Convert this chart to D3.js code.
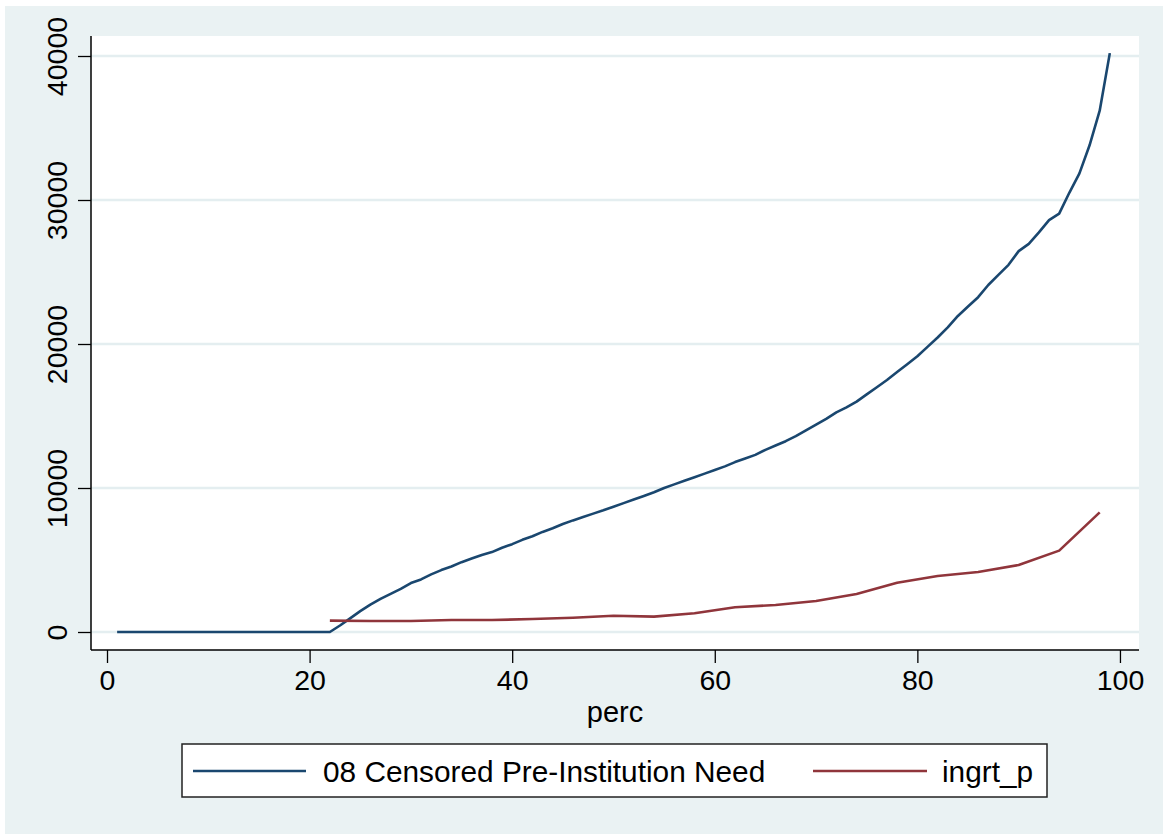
<!DOCTYPE html>
<html>
<head>
<meta charset="utf-8">
<script src="https://cdn.jsdelivr.net/npm/d3@7"></script>
<style>
  body { margin: 0; background: #ffffff; }
  text { font-family: "Liberation Sans", Arial, sans-serif; fill: #000; }
</style>
</head>
<body>
<div id="chart"></div>
<script>
// Chart size
const width = 1163;
const height = 835;

// Blue series: percentile 1..99
const needPerc = d3.range(1, 100);
const needVals = [
  0, 0, 0, 0, 0, 0, 0, 0, 0, 0,
  0, 0, 0, 0, 0, 0, 0, 0, 0, 0,
  0, 0, 450, 950, 1450, 1900, 2300, 2650, 3000, 3400,
  3650, 4000, 4300, 4550, 4850, 5100, 5350, 5550, 5850, 6100,
  6400, 6650, 6950, 7200, 7500, 7750, 7980, 8220, 8450, 8700,
  8950, 9200, 9450, 9700, 10000, 10250, 10500, 10750, 11000, 11250,
  11500, 11800, 12050, 12300, 12650, 12950, 13250, 13600, 14000, 14400,
  14800, 15250, 15600, 16000, 16500, 17000, 17500, 18050, 18600, 19150,
  19800, 20450, 21150, 21950, 22600, 23250, 24100, 24800, 25500, 26450,
  26950, 27750, 28600, 29050, 30500, 31850, 33800, 36200, 40200
];

// Red series: every 4th percentile from 22
const grantPerc = [22, 26, 30, 34, 38, 42, 46, 50, 54, 58, 62, 66, 70, 74, 78, 82, 86, 90, 94, 98];
const grantVals = [790, 760, 760, 830, 830, 900, 990, 1130, 1070, 1300, 1720, 1880, 2150, 2640, 3420, 3890, 4170, 4650, 5650, 8310];

const xTicks = [0, 20, 40, 60, 80, 100];
const yTicks = [0, 10000, 20000, 30000, 40000];

const legendLabels = ["08 Censored Pre-Institution Need", "ingrt_p"];
const colors = ["#1a476f", "#90353b"];

const bgColor = "#eaf2f3";
const fontSize = "28.5px";

// plot region
const plot = { left: 91, right: 1139, top: 36, bottom: 650 };

const svg = d3.select("#chart").append("svg")
  .attr("width", width).attr("height", height);

// outer background
svg.append("rect")
  .attr("x", 5).attr("y", 6)
  .attr("width", width - 5).attr("height", height - 7)
  .attr("fill", bgColor);

// inner plot region
svg.append("rect")
  .attr("x", plot.left).attr("y", plot.top)
  .attr("width", plot.right - plot.left).attr("height", plot.bottom - plot.top)
  .attr("fill", "white");

const x = d3.scaleLinear().domain([-1.58, 101.88]).range([plot.left, plot.right]);
const y = d3.scaleLinear().domain([-1250, 41389]).range([plot.bottom, plot.top]);

// gridlines
svg.append("g").selectAll("line")
  .data(yTicks)
  .enter().append("line")
  .attr("x1", plot.left).attr("x2", plot.right)
  .attr("y1", d => y(d)).attr("y2", d => y(d))
  .attr("stroke", "#e4eef0")
  .attr("stroke-width", 2.4);

// lines
const line = d3.line()
  .x(d => x(d[0]))
  .y(d => y(d[1]));

svg.append("path")
  .datum(needPerc.map((p, i) => [p, needVals[i]]))
  .attr("d", line)
  .attr("fill", "none")
  .attr("stroke", colors[0])
  .attr("stroke-width", 2.6)
  .attr("stroke-linejoin", "round");

svg.append("path")
  .datum(grantPerc.map((p, i) => [p, grantVals[i]]))
  .attr("d", line)
  .attr("fill", "none")
  .attr("stroke", colors[1])
  .attr("stroke-width", 2.6)
  .attr("stroke-linejoin", "round");

// x axis
const xAxis = svg.append("g")
  .attr("transform", `translate(0,${plot.bottom})`)
  .call(d3.axisBottom(x).tickValues(xTicks).tickSize(13).tickPadding(7).tickSizeOuter(0));
xAxis.select(".domain").attr("d", `M${plot.left},0H${plot.right}`).attr("stroke", "#000").attr("stroke-width", 1.5);
xAxis.selectAll(".tick line").attr("stroke", "#000").attr("stroke-width", 1.3);
xAxis.selectAll(".tick text")
  .attr("font-size", fontSize)
  .attr("font-family", "Liberation Sans, Arial, sans-serif")
  .attr("fill", "#000");

// y axis
const yAxis = svg.append("g")
  .attr("transform", `translate(${plot.left},0)`)
  .call(d3.axisLeft(y).tickValues(yTicks).tickSize(13).tickSizeOuter(0).tickFormat(d3.format("d")));
yAxis.select(".domain").attr("d", `M0,${plot.top}V${plot.bottom}`).attr("stroke", "#000").attr("stroke-width", 1.5);
yAxis.selectAll(".tick line").attr("stroke", "#000").attr("stroke-width", 1.3);
yAxis.selectAll(".tick text")
  .attr("x", null).attr("dy", null)
  .attr("transform", "translate(-24,0) rotate(-90)")
  .attr("text-anchor", "middle")
  .attr("font-size", fontSize)
  .attr("font-family", "Liberation Sans, Arial, sans-serif")
  .attr("fill", "#000");

// x axis title
svg.append("text")
  .attr("x", (plot.left + plot.right) / 2)
  .attr("y", 722)
  .attr("text-anchor", "middle")
  .attr("font-size", "29px")
  .text("perc");

// legend
const legend = svg.append("g");
legend.append("rect")
  .attr("x", 182).attr("y", 744)
  .attr("width", 865).attr("height", 53)
  .attr("fill", "white")
  .attr("stroke", "#222")
  .attr("stroke-width", 1.5);

const legendItems = [
  { x1: 193, x2: 306, tx: 323 },
  { x1: 813, x2: 927, tx: 942 }
];

legend.selectAll(".key")
  .data(legendItems)
  .enter().append("line")
  .attr("x1", d => d.x1).attr("x2", d => d.x2)
  .attr("y1", 771).attr("y2", 771)
  .attr("stroke", (d, i) => colors[i])
  .attr("stroke-width", 2.6);

legend.selectAll(".lab")
  .data(legendItems)
  .enter().append("text")
  .attr("x", d => d.tx)
  .attr("y", 782)
  .attr("font-size", "29.8px")
  .text((d, i) => legendLabels[i]);
</script>
</body>
</html>
